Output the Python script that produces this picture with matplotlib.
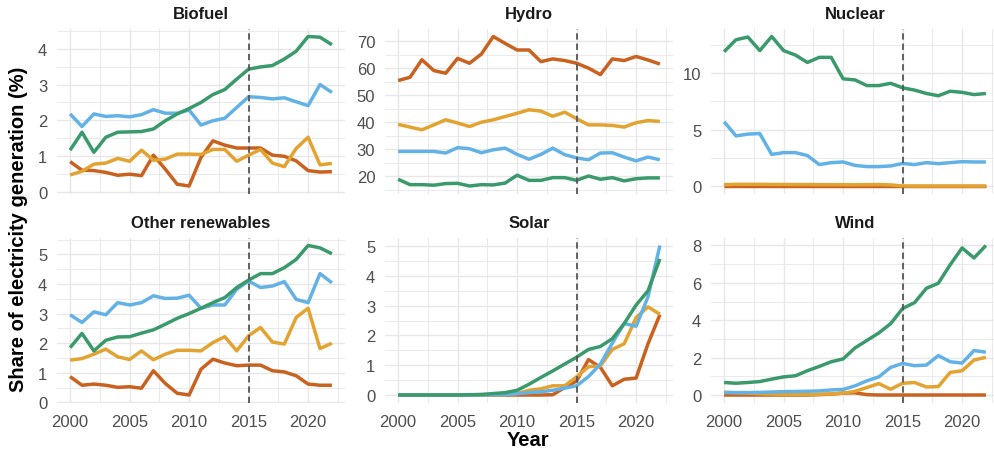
import matplotlib
matplotlib.use("Agg")
import matplotlib.pyplot as plt
from matplotlib.ticker import MultipleLocator
import numpy as np

plt.rcParams['font.family'] = ['Liberation Sans', 'DejaVu Sans']

years = list(range(2000, 2023))

# Share of electricity generation (%) by source, four series each
biofuel_green = [1.17, 1.67, 1.11, 1.53, 1.67, 1.68, 1.69, 1.76, 1.99, 2.18, 2.33, 2.50, 2.72, 2.86, 3.15, 3.43, 3.49, 3.53, 3.71, 3.93, 4.34, 4.32, 4.11]
biofuel_blue = [2.18, 1.83, 2.18, 2.11, 2.13, 2.10, 2.16, 2.30, 2.20, 2.20, 2.29, 1.87, 1.99, 2.06, 2.36, 2.66, 2.64, 2.60, 2.63, 2.52, 2.41, 3.00, 2.78]
biofuel_orange = [0.48, 0.58, 0.78, 0.81, 0.94, 0.86, 1.17, 0.89, 0.92, 1.06, 1.06, 1.05, 1.19, 1.19, 0.86, 1.03, 1.19, 0.81, 0.71, 1.22, 1.53, 0.76, 0.80]
biofuel_red = [0.85, 0.61, 0.60, 0.55, 0.47, 0.50, 0.46, 1.03, 0.64, 0.22, 0.17, 0.97, 1.43, 1.31, 1.23, 1.23, 1.23, 1.03, 1.00, 0.87, 0.60, 0.56, 0.57]

hydro_green = [18.9, 16.9, 16.9, 16.7, 17.3, 17.4, 16.4, 16.9, 16.8, 17.5, 20.4, 18.5, 18.5, 19.5, 19.5, 18.5, 20.1, 18.9, 19.5, 18.3, 19.1, 19.4, 19.4]
hydro_blue = [29.2, 29.2, 29.2, 29.2, 28.6, 30.6, 30.2, 28.7, 29.8, 30.4, 28.1, 26.3, 28.1, 30.4, 28.0, 26.8, 26.1, 28.6, 28.7, 27.1, 25.7, 27.1, 26.1]
hydro_orange = [39.2, 38.2, 37.2, 39.0, 40.9, 39.7, 38.4, 40.0, 40.9, 42.1, 43.3, 44.6, 44.1, 42.2, 43.7, 41.3, 39.0, 39.0, 38.8, 38.2, 39.8, 40.6, 40.3]
hydro_red = [55.4, 56.6, 63.1, 59.1, 58.1, 63.6, 61.8, 65.2, 71.7, 69.1, 66.7, 66.7, 62.4, 63.4, 62.8, 61.8, 60.0, 57.6, 63.4, 62.8, 64.3, 63.0, 61.5]

nuclear_green = [11.9, 12.96, 13.2, 12.0, 13.25, 12.0, 11.6, 10.95, 11.4, 11.4, 9.5, 9.4, 8.9, 8.9, 9.1, 8.7, 8.5, 8.2, 8.0, 8.4, 8.3, 8.1, 8.2]
nuclear_blue = [5.7, 4.44, 4.6, 4.65, 2.8, 2.96, 2.96, 2.7, 1.9, 2.07, 2.13, 1.83, 1.72, 1.72, 1.78, 2.0, 1.9, 2.07, 1.98, 2.07, 2.16, 2.13, 2.13]
nuclear_orange = [0.12, 0.15, 0.15, 0.15, 0.14, 0.14, 0.13, 0.13, 0.12, 0.12, 0.12, 0.11, 0.12, 0.13, 0.10, 0.0, 0.0, 0.0, 0.0, 0.0, 0.0, 0.0, 0.0]
nuclear_red = [0.0, 0.0, 0.0, 0.0, 0.0, 0.0, 0.0, 0.0, 0.0, 0.0, 0.0, 0.0, 0.0, 0.0, 0.0, 0.0, 0.0, 0.0, 0.0, 0.0, 0.0, 0.0, 0.0]

other_green = [1.85, 2.33, 1.74, 2.10, 2.21, 2.22, 2.34, 2.45, 2.64, 2.84, 3.00, 3.18, 3.37, 3.54, 3.88, 4.13, 4.35, 4.35, 4.55, 4.83, 5.30, 5.22, 5.02]
other_blue = [2.96, 2.70, 3.06, 2.96, 3.37, 3.29, 3.37, 3.60, 3.51, 3.52, 3.62, 3.18, 3.29, 3.29, 3.82, 4.10, 3.88, 3.93, 4.08, 3.48, 3.37, 4.35, 4.04]
other_orange = [1.43, 1.48, 1.63, 1.80, 1.54, 1.45, 1.74, 1.44, 1.63, 1.76, 1.76, 1.74, 2.02, 2.22, 1.74, 2.25, 2.53, 2.04, 1.97, 2.87, 3.18, 1.82, 2.00]
other_red = [0.87, 0.58, 0.62, 0.58, 0.51, 0.53, 0.48, 1.07, 0.64, 0.31, 0.25, 1.12, 1.46, 1.33, 1.24, 1.26, 1.26, 1.07, 1.03, 0.90, 0.62, 0.58, 0.58]

solar_green = [0.0, 0.0, 0.0, 0.0, 0.0, 0.0, 0.01, 0.02, 0.05, 0.08, 0.16, 0.36, 0.59, 0.81, 1.04, 1.27, 1.53, 1.63, 1.89, 2.40, 3.02, 3.50, 4.57]
solar_blue = [0.0, 0.0, 0.0, 0.0, 0.0, 0.0, 0.0, 0.0, 0.01, 0.02, 0.05, 0.08, 0.11, 0.16, 0.23, 0.31, 0.62, 1.04, 1.74, 2.40, 2.31, 3.30, 5.02]
solar_orange = [0.0, 0.0, 0.0, 0.0, 0.0, 0.0, 0.0, 0.0, 0.01, 0.02, 0.05, 0.16, 0.21, 0.31, 0.31, 0.61, 0.95, 0.98, 1.53, 1.72, 2.60, 2.96, 2.71]
solar_red = [0.0, 0.0, 0.0, 0.0, 0.0, 0.0, 0.0, 0.0, 0.0, 0.0, 0.0, 0.0, 0.0, 0.01, 0.25, 0.47, 1.19, 0.93, 0.31, 0.53, 0.57, 1.72, 2.70]

wind_green = [0.67, 0.63, 0.67, 0.72, 0.85, 0.97, 1.03, 1.30, 1.53, 1.78, 1.93, 2.52, 2.92, 3.32, 3.82, 4.63, 4.94, 5.71, 5.98, 6.97, 7.87, 7.33, 8.00]
wind_blue = [0.13, 0.13, 0.13, 0.14, 0.16, 0.18, 0.19, 0.20, 0.22, 0.27, 0.30, 0.49, 0.76, 0.97, 1.48, 1.69, 1.57, 1.60, 2.11, 1.78, 1.71, 2.38, 2.29]
wind_orange = [0.15, 0.12, 0.10, 0.07, 0.05, 0.03, 0.03, 0.03, 0.04, 0.06, 0.10, 0.20, 0.40, 0.61, 0.31, 0.63, 0.67, 0.43, 0.45, 1.21, 1.30, 1.87, 2.02]
wind_red = [0.0, 0.0, 0.0, 0.0, 0.0, 0.0, 0.0, 0.0, 0.02, 0.05, 0.10, 0.12, 0.02, 0.0, 0.0, 0.0, 0.0, 0.0, 0.0, 0.0, 0.0, 0.0, 0.0]

titles = ["Biofuel", "Hydro", "Nuclear", "Other renewables", "Solar", "Wind"]
y_steps = [1, 10, 5, 1, 1, 2]
panels = [
    (biofuel_red, biofuel_orange, biofuel_blue, biofuel_green),
    (hydro_red, hydro_orange, hydro_blue, hydro_green),
    (nuclear_red, nuclear_orange, nuclear_blue, nuclear_green),
    (other_red, other_orange, other_blue, other_green),
    (solar_red, solar_orange, solar_blue, solar_green),
    (wind_red, wind_orange, wind_blue, wind_green),
]
line_colors = ["#c9611f", "#e2a331", "#62b2e6", "#3b9a6c"]
policy_year = 2015

W, H = 994, 452
fig = plt.figure(figsize=(W / 100, H / 100), dpi=100)
fig.patch.set_facecolor("white")

col_left = [57, 385, 711]
panel_w = 288
row_top = [30, 239]
panel_h = 164.5

grid_col = "#e7e7e7"
tick_col = "#4d4d4d"

for k, (title, series, step) in enumerate(zip(titles, panels, y_steps)):
    r, c = divmod(k, 3)
    left = col_left[c] / W
    bottom = 1 - (row_top[r] + panel_h) / H
    ax = fig.add_axes([left, bottom, panel_w / W, panel_h / H])
    ax.set_facecolor("white")
    for s in ax.spines.values():
        s.set_visible(False)

    for vals, col in zip(series, line_colors):
        ax.plot(years, vals, color=col, lw=2.5, solid_joinstyle="round",
                solid_capstyle="butt", zorder=3)

    ax.axvline(policy_year, color="#555555", lw=1.3, ls=(0, (3.5, 2.2)), zorder=4)

    allv = np.concatenate([np.asarray(v, dtype=float) for v in series])
    lo, hi = allv.min(), allv.max()
    pad = 0.05 * (hi - lo)
    ax.set_ylim(lo - pad, hi + pad)
    xpad = 0.05 * (years[-1] - years[0])
    ax.set_xlim(years[0] - xpad, years[-1] + xpad)

    ax.xaxis.set_major_locator(MultipleLocator(5))
    ax.xaxis.set_minor_locator(MultipleLocator(2.5))
    ax.yaxis.set_major_locator(MultipleLocator(step))
    ax.yaxis.set_minor_locator(MultipleLocator(step / 2))
    ax.grid(which="major", color=grid_col, lw=1.0, zorder=0)
    ax.grid(which="minor", color=grid_col, lw=0.6, zorder=0)
    ax.set_axisbelow(True)

    ax.tick_params(which="both", length=0)
    ax.tick_params(axis="y", labelsize=12, labelcolor=tick_col, pad=7)
    ax.tick_params(axis="x", labelsize=12, labelcolor=tick_col, pad=8)
    if r == 0:
        ax.tick_params(axis="x", labelbottom=False)

    ax.set_title(title, fontsize=12, fontweight="bold", color="#1a1a1a", pad=8)

fig.text(528 / W, 1 - 441 / H, "Year", ha="center", va="center",
         fontsize=14.5, fontweight="bold", color="black")
fig.text(19 / W, 1 - 229 / H, "Share of electricity generation (%)", ha="center",
         va="center", rotation=90, fontsize=14.5, fontweight="bold", color="black")

fig.savefig("out.png", dpi=100, facecolor="white")
